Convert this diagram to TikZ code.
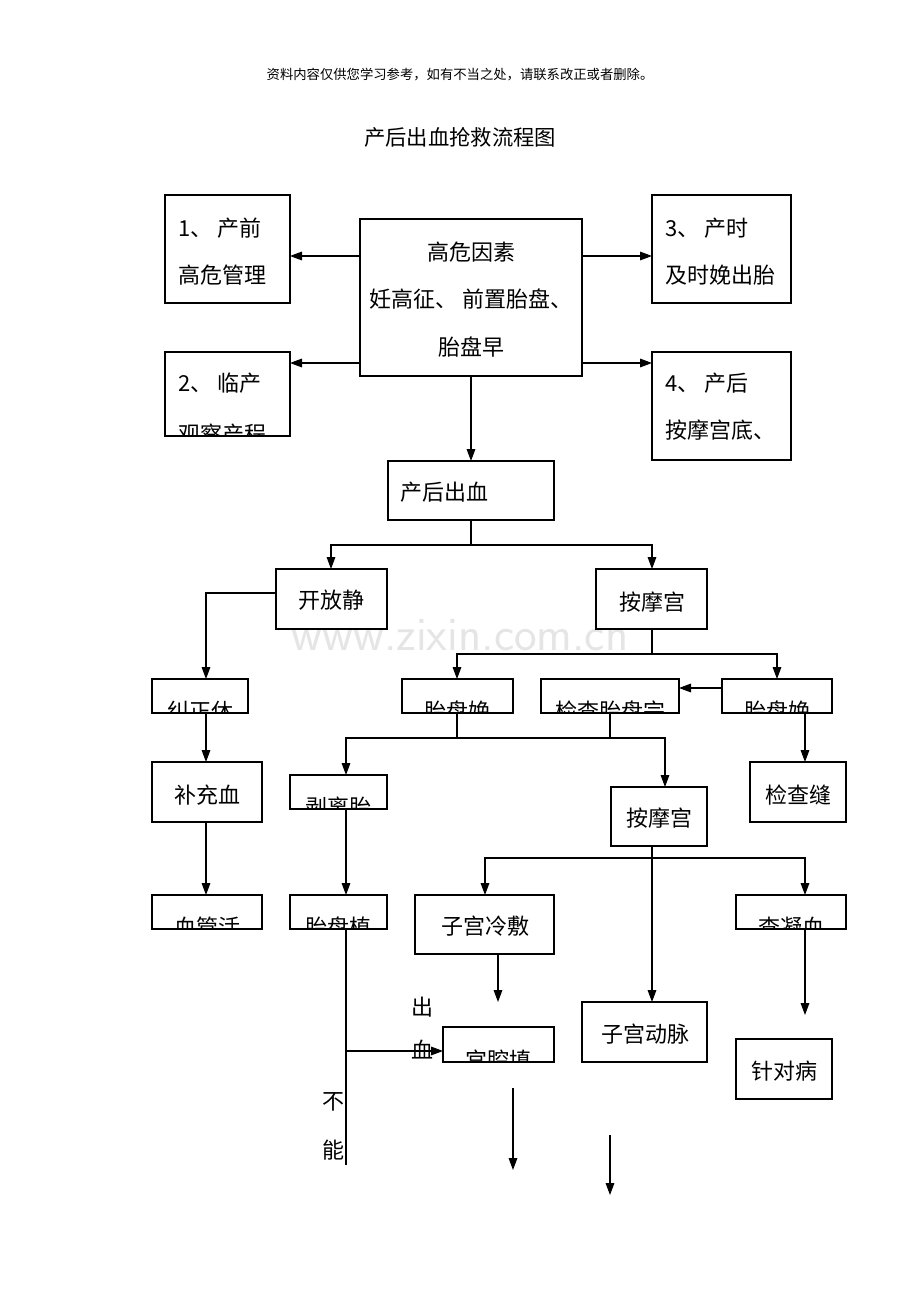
\documentclass[tikz,border=0pt]{standalone}
\usepackage{fontspec}
\setmainfont{Liberation Serif}
\newfontfamily\cjk{Noto Sans CJK SC}
\usetikzlibrary{arrows.meta}
\begin{document}
\begin{tikzpicture}[x=0.75pt,y=-0.75pt,
  box/.style={draw,line width=0.8pt},
  ar/.style={-{Triangle[length=9pt,width=6.5pt]},line width=0.8pt},
  ln/.style={line width=0.8pt},
  t/.style={font=\cjk\fontsize{16.5}{16.5}\selectfont,inner sep=0pt}]
\useasboundingbox (0,0) rectangle (920,1302);
\node[font=\cjk\fontsize{10}{10}\selectfont] (hdr) at (460,75) {资料内容仅供您学习参考，如有不当之处，请联系改正或者删除。};
\node[font=\cjk\fontsize{16}{16}\selectfont] (title) at (460,137) {产后出血抢救流程图};
\node[font=\sffamily\fontsize{36}{36}\selectfont,text=black!10] (wm) at (460,635) {www.zixin.com.cn};
\newcommand\cbox[6]{%
  \draw[box] (#1,#2) rectangle (#3,#4);
  \begin{scope}\clip (#1,#2) rectangle (#3,#4);
  \node[t] at (#5) {#6};
  \end{scope}}
\draw[box] (165,195) rectangle (290,303);
\node[t,anchor=west] (b1a) at (178,228) {1、 产前};
\node[t,anchor=west] (b1b) at (178,275) {高危管理};
\draw[box] (360,219) rectangle (582,376);
\node[t] (c1) at (471,252) {高危因素};
\node[t] (c2) at (471,299) {妊高征、 前置胎盘、};
\node[t] (c3) at (471,347) {胎盘早};
\draw[box] (652,195) rectangle (791,303);
\node[t,anchor=west] (b3a) at (665,228) {3、 产时};
\node[t,anchor=west] (b3b) at (665,275) {及时娩出胎};
\draw[box] (165,352) rectangle (290,436);
\node[t,anchor=west] (b2a) at (178,383) {2、 临产};
\begin{scope}\clip (165,352) rectangle (290,436);
\node[t,anchor=west] (b2b) at (178,434) {观察产程};
\end{scope}
\draw[box] (652,352) rectangle (791,460);
\node[t,anchor=west] (b4a) at (665,383) {4、 产后};
\node[t,anchor=west] (b4b) at (665,430) {按摩宫底、};
\draw[box] (388,461) rectangle (554,520);
\node[t,anchor=west] (pph) at (400,492) {产后出血};
\draw[box] (276,569) rectangle (387,629); \node[t] (kf) at (331,600) {开放静};
\draw[box] (596,569) rectangle (707,629); \node[t] (am1) at (652,602) {按摩宫};
\cbox{152}{679}{248}{713}{200,711}{纠正休}
\cbox{402}{679}{513}{713}{457,711}{胎盘娩}
\cbox{541}{679}{679}{713}{610,711}{检查胎盘完}
\cbox{722}{679}{832}{713}{777,711}{胎盘娩}
\draw[box] (152,762) rectangle (262,822); \node[t] (bc) at (207,795) {补充血};
\cbox{290}{775}{387}{809}{338,807}{剥离胎}
\draw[box] (611,787) rectangle (707,846); \node[t] (am2) at (659,818) {按摩宫};
\draw[box] (750,762) rectangle (846,822); \node[t] (jc) at (798,795) {检查缝};
\cbox{152}{895}{262}{929}{207,927}{血管活}
\cbox{290}{895}{387}{929}{338,927}{胎盘植}
\draw[box] (415,895) rectangle (554,954); \node[t] (lf) at (485,926) {子宫冷敷};
\cbox{736}{895}{846}{929}{791,927}{查凝血}
\cbox{443}{1027}{554}{1062}{498,1060}{宫腔填}
\draw[box] (582,1002) rectangle (707,1062); \node[t] (dm) at (645,1034) {子宫动脉};
\draw[box] (736,1039) rectangle (832,1099); \node[t] (zd) at (784,1071) {针对病};
\node[t] (tc) at (422,1007) {出};
\node[t] (tx) at (422,1050) {血};
\node[t] (tb) at (333,1102) {不};
\node[t] (tn) at (333,1150) {能};
\draw[ar] (360,256) -- (290,256);
\draw[ar] (360,363) -- (290,363);
\draw[ar] (582,256) -- (652,256);
\draw[ar] (582,363) -- (652,363);
\draw[ar] (471,376) -- (471,461);
\draw[ln] (471,520) -- (471,545);
\draw[ar] (471,545) -| (331,569);
\draw[ar] (471,545) -| (652,569);
\draw[ar] (276,593) -| (206,679);
\draw[ar] (206,713) -- (206,762);
\draw[ar] (206,822) -- (206,895);
\draw[ln] (652,629) -- (652,654);
\draw[ar] (652,654) -| (457,679);
\draw[ar] (652,654) -| (777,679);
\draw[ar] (722,688) -- (679,688);
\draw[ar] (805,713) -- (805,762);
\draw[ln] (457,713) -- (457,738);
\draw[ln] (610,713) -- (610,738);
\draw[ar] (457,738) -| (346,775);
\draw[ar] (457,738) -| (665,787);
\draw[ar] (346,809) -- (346,895);
\draw[ar] (652,846) -- (652,1002);
\draw[ar] (652,858) -| (485,895);
\draw[ar] (652,858) -| (805,895);
\draw[ar] (498,954) -- (498,1002);
\draw[ar] (805,929) -- (805,1015);
\draw[ln] (346,929) -- (346,1165);
\draw[ar] (346,1051) -- (443,1051);
\draw[ar] (513,1088) -- (513,1170);
\draw[ar] (610,1135) -- (610,1195);
\end{tikzpicture}
\end{document}
